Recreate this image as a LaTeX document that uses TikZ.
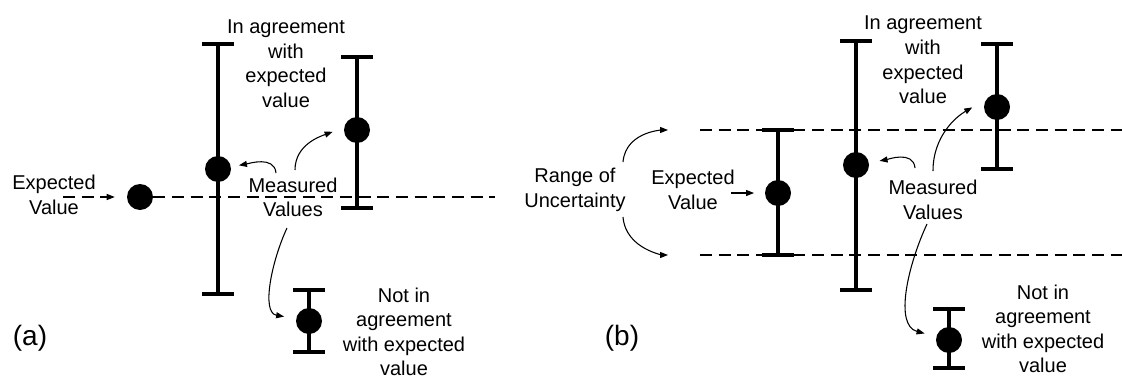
\documentclass[tikz,border=0pt]{standalone}
\usepackage{fontspec}
\setmainfont{Liberation Sans}
\usetikzlibrary{positioning, arrows.meta}

\begin{document}
\begin{tikzpicture}[
                x=0.75pt, y=-0.75pt,
                txt/.style={align=center, inner sep=0pt, font=\fontsize{15}{18.4}\selectfont},
                tag/.style={inner sep=0pt, font=\fontsize{21}{25}\selectfont},
                dot/.style={circle, fill=black, minimum size=19.5pt, inner sep=0pt},
                errbar/.style={line width=3pt},
                refline/.style={line width=0.9pt, dash pattern=on 9pt off 5pt},
                callout/.style={line width=0.8pt, -{Triangle[length=6pt, width=4.5pt]}}
            ]
            \useasboundingbox (0,0) rectangle (1122,379);

            % Bezugslinien
            \coordinate (endA) at (495,197);
            \coordinate (lnT0) at (700,130);
            \coordinate (lnT1) at (1122,130);
            \coordinate (lnB0) at (700,255);
            \coordinate (lnB1) at (1122,255);
            \draw[refline] (lnT0) -- (lnT1);
            \draw[refline] (lnB0) -- (lnB1);

            % Fehlerbalken
            \draw[errbar] (202,44) -- (234,44) (218,44) -- (218,294) (202,294) -- (234,294);
            \draw[errbar] (341,57) -- (373,57) (357,57) -- (357,208) (341,208) -- (373,208);
            \draw[errbar] (293,290) -- (325,290) (309,290) -- (309,352) (293,352) -- (325,352);
            \draw[errbar] (762,130) -- (794,130) (778,130) -- (778,255) (762,255) -- (794,255);
            \draw[errbar] (840,41) -- (872,41) (856,41) -- (856,290) (840,290) -- (872,290);
            \draw[errbar] (981,44) -- (1013,44) (997,44) -- (997,169) (981,169) -- (1013,169);
            \draw[errbar] (933,309) -- (965,309) (949,309) -- (949,368) (933,368) -- (965,368);

            % Knoten
            \node[dot] (expA) at (140,197) {};
            \node[dot] (ptA1) at (218,169) {};
            \node[dot] (ptA2) at (357,130) {};
            \node[dot] (ptA3) at (309,321) {};
            \node[dot] (ptB1) at (778,193) {};
            \node[dot] (ptB2) at (856,165) {};
            \node[dot] (ptB3) at (997,107) {};
            \node[dot] (ptB4) at (949,340) {};

            \node[txt] (lblExpA) at (54,195) {Expected\\Value};
            \node[txt] (lblAgrA) at (286,63.5) {In agreement\\with\\expected\\value};
            \node[txt] (msrA) at (293,197.5) {Measured\\Values};
            \node[txt] (lblNotA) at (404,332) {Not in\\agreement\\with expected\\value};
            \node[tag] (tagA) at (30,338) {(a)};

            \node[txt] (lblRange) at (575,190) {Range of\\Uncertainty};
            \node[txt] (lblExpB) at (693,190) {Expected\\Value};
            \node[txt] (lblAgrB) at (923,60) {In agreement\\with\\expected\\value};
            \node[txt] (msrB) at (933,200) {Measured\\Values};
            \node[txt] (lblNotB) at (1043,329) {Not in\\agreement\\with expected\\value};
            \node[tag] (tagB) at (622,338) {(b)};

            % Pfeile
            \draw[refline, -{Triangle[length=6pt, width=4.5pt]}, shorten >=9pt] ([shift={(9,2)}]lblExpA.center) -- (expA);
            \draw[refline] (expA) -- (endA);
            \draw[callout, shorten >=6pt] ([shift={(-17,-24.5)}]msrA.center) to[out=95, in=10] (ptA1);
            \draw[callout, shorten >=9pt] ([shift={(2,-27.5)}]msrA.center) to[out=90, in=200] (ptA2.170);
            \draw[callout, shorten >=9pt] ([shift={(-6,30.5)}]msrA.center) to[out=245, in=170] (ptA3);

            \draw[callout, shorten >=24pt] ([shift={(48,-28)}]lblRange.center) to[out=85, in=180] (lnT0);
            \draw[callout, shorten >=24pt] ([shift={(48,27)}]lblRange.center) to[out=275, in=180] (lnB0);
            \draw[callout, shorten >=8pt] ([shift={(38,3)}]lblExpB.center) -- (ptB1);
            \draw[callout, shorten >=8pt] ([shift={(-18,-32)}]msrB.center) to[out=95, in=10] (ptB2);
            \draw[callout, shorten >=12pt] ([shift={(0,-29)}]msrB.center) to[out=90, in=210] (ptB3.145);
            \draw[callout, shorten >=9pt] ([shift={(-6,24)}]msrB.center) to[out=245, in=165] (ptB4);

        \end{tikzpicture}
\end{document}
